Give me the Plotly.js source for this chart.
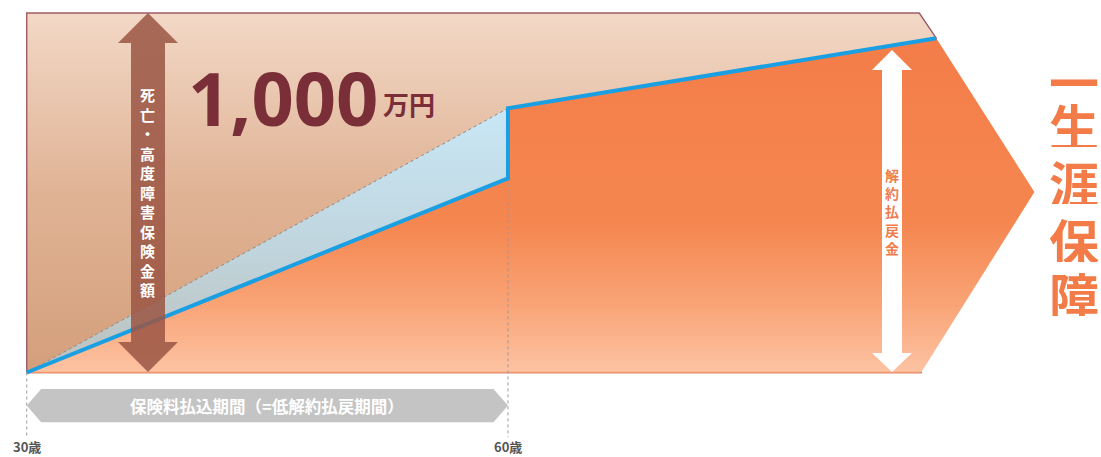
<!DOCTYPE html>
<html>
<head>
<meta charset="utf-8">
<script src="https://cdn.plot.ly/plotly-3.0.1.min.js"></script>
<style>html,body{margin:0;padding:0;background:#fff;}#chart{width:1101px;height:457px;}</style>
</head>
<body>
<div id="chart"></div>
<script>
// ---- data ----
const ages = [30, 60, 60, 86.7];              // 年齢
const surrenderValue = [0, 540, 735, 930];    // 解約払戻金（万円）
const normalAges = [30, 60];                  // 通常の解約払戻金ライン
const normalValue = [0, 735];
const deathBenefit = 1000;                    // 死亡・高度障害保険金額（万円）
const payStart = 30;
const payEnd = 60;
const tickAges = [30, 60];
const tickLabels = ['30歳', '60歳'];

// ---- drawing ----
const W = 1101, H = 457;
const JP = '"Noto Sans CJK JP", "Noto Sans", sans-serif';
const endAge = ages[ages.length - 1];
const endVal = surrenderValue[surrenderValue.length - 1];
const capAge = endAge - 1.06, baseAge = endAge - 0.94;
const tipAge = endAge + 6.12, tipVal = 502;

function P(x, y) { return (x / W).toFixed(5) + ',' + (1 - y / H).toFixed(5); }
function pathPx(pts) { return 'M' + pts.map(p => P(p[0], p[1])).join('L') + 'Z'; }

const traces = [
  { // brown background (death benefit)
    x: [payStart, payStart, capAge, endAge, baseAge, payStart],
    y: [0, deathBenefit, deathBenefit, endVal, 0, 0],
    mode: 'lines', fill: 'toself',
    line: {color: '#9e5c66', width: 1.4},
    fillgradient: {type: 'vertical', colorscale: [[0, '#d49f7b'], [0.5, '#e0b395'], [1, '#f2d8c6']]},
    hoverinfo: 'skip'
  },
  { // light blue area
    x: [normalAges[0], normalAges[1], ages[1], normalAges[0]],
    y: [normalValue[0], normalValue[1], surrenderValue[1], normalValue[0]],
    mode: 'lines', fill: 'toself', line: {width: 0},
    fillgradient: {type: 'vertical', colorscale: [[0, '#bdc0bc'], [0.5, '#c0d6df'], [1, '#c9e7f6']]},
    hoverinfo: 'skip'
  },
  { // orange area
    x: ages.concat([tipAge, baseAge, payStart]),
    y: surrenderValue.concat([tipVal, 0, 0]),
    mode: 'lines', fill: 'toself', line: {width: 0},
    fillgradient: {type: 'vertical', colorscale: [[0, '#fdc3a3'], [0.2, '#f9a477'], [0.45, '#f5864f'], [1, '#f47d49']]},
    hoverinfo: 'skip'
  },
  { // bottom edge
    x: [payStart, baseAge], y: [0, 0], mode: 'lines',
    line: {color: '#f3956a', width: 1.5}, hoverinfo: 'skip'
  },
  { // normal surrender dotted line
    x: normalAges, y: normalValue, mode: 'lines',
    line: {color: '#8a8a8a', width: 1, dash: 'dot'}, hoverinfo: 'skip'
  },
  { // vertical guides
    x: [tickAges[0], tickAges[0], null, tickAges[1], tickAges[1]],
    y: [0, -180, null, surrenderValue[1], -180], mode: 'lines',
    line: {color: '#9a9a9a', width: 1, dash: 'dot'}, hoverinfo: 'skip'
  },
  { // surrender value line
    x: ages, y: surrenderValue, mode: 'lines',
    line: {color: '#1a9fe3', width: 4}, hoverinfo: 'skip'
  }
];

const hexOff = 0.9;
const shapes = [
  { type: 'path', xref: 'x', yref: 'y',
    path: 'M' + payStart + ',-92L' + (payStart + hexOff) + ',-46L' + (payEnd - hexOff) + ',-46L' + payEnd + ',-92L' + (payEnd - hexOff) + ',-138L' + (payStart + hexOff) + ',-138Z',
    fillcolor: '#c4c4c4', line: {width: 0} },
  { type: 'path', xref: 'paper', yref: 'paper',
    path: pathPx([[148,13],[178,43],[165,43],[165,342],[178,342],[148,372],[118,342],[131,342],[131,43],[118,43]]),
    fillcolor: '#9b5645', opacity: 0.86, line: {width: 0} },
  { type: 'path', xref: 'paper', yref: 'paper',
    path: pathPx([[892,50],[912,70],[902,70],[902,353],[912,353],[892,372],[872,353],[882,353],[882,70],[872,70]]),
    fillcolor: '#ffffff', line: {width: 0} }
];

const annotations = [];
function ann(text, x, y, size, color, family, extra) {
  annotations.push(Object.assign({
    text: text, xref: 'paper', yref: 'paper', x: x / W, y: 1 - y / H,
    xanchor: 'center', yanchor: 'middle', showarrow: false,
    font: {size: size, color: color, family: family, weight: 'bold'}
  }, extra || {}));
}
ann('死亡・高度障害保険金額'.split('').join('<br>'), 148, 192, 15, '#ffffff', JP);
ann('解約払戻金'.split('').join('<br>'), 892, 211, 14, '#f07c4c', JP);
const bigY = [80, 125, 182, 240, 294];
'一生涯保障'.split('').forEach((c, i) => ann(c, 1074, bigY[i], 50, '#f27b47', JP, {height: 44, valign: 'middle'}));
ann('1,000', 283, 97, 74, '#7a2e38', '"Noto Sans", sans-serif');
ann('万円', 409, 103, 26, '#7a2e38', JP);
ann('保険料払込期間（=低解約払戻期間）', 0, 0, 16.5, '#ffffff', JP,
    {xref: 'x', yref: 'y', x: (payStart + payEnd) / 2, y: -92});
tickAges.forEach((a, i) => annotations.push({
  text: tickLabels[i], xref: 'x', yref: 'paper', x: a, y: 1 - 446 / H,
  xanchor: 'center', yanchor: 'middle', showarrow: false,
  font: {size: 13, color: '#555555', family: JP, weight: 'bold'}
}));

const layout = {
  width: W, height: H,
  margin: {l: 0, r: 0, t: 0, b: 0, pad: 0},
  paper_bgcolor: '#ffffff', plot_bgcolor: '#ffffff',
  showlegend: false,
  xaxis: {range: [28.334, 96.97], visible: false, fixedrange: true},
  yaxis: {range: [-235, 1036.2], visible: false, fixedrange: true},
  shapes: shapes, annotations: annotations
};

Plotly.newPlot('chart', traces, layout, {staticPlot: true, displayModeBar: false});
</script>
</body>
</html>
